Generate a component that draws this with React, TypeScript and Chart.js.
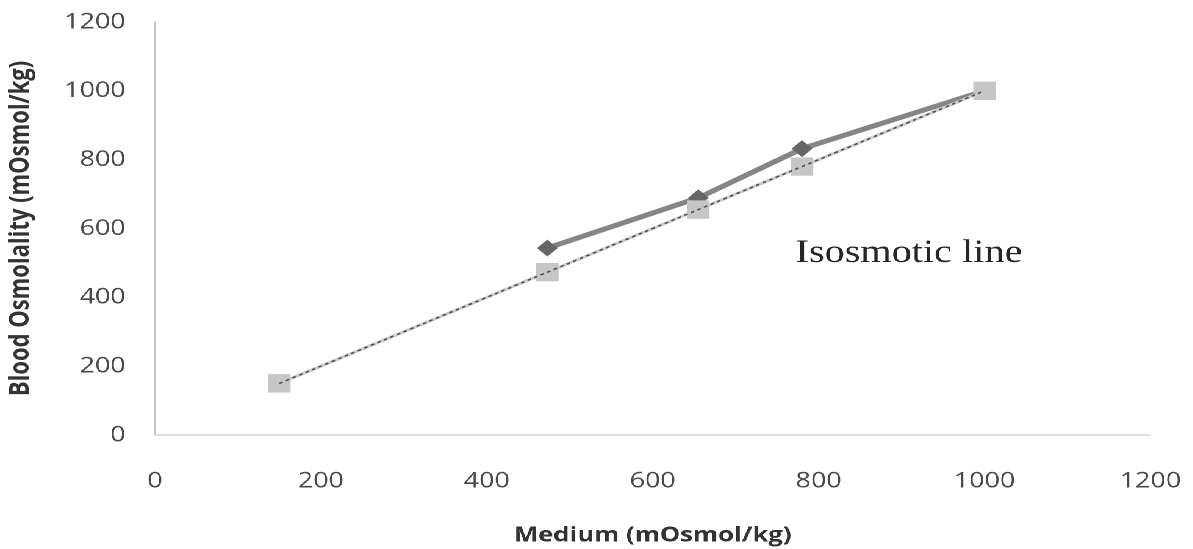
import React, { useEffect, useRef } from "react";
import { Chart, registerables } from "chart.js";

Chart.register(...registerables);

// ---- data ----
const mediumBlood = [473, 655, 780, 1000];
const bloodOsmolality = [543, 689, 832, 1000];
const mediumIso = [150, 473, 655, 780, 1000];
const isoOsmolality = [150, 473, 655, 780, 1000];
const axisTicks = [0, 200, 400, 600, 800, 1000, 1200];
const xTitle = "Medium (mOsmol/kg)";
const yTitle = "Blood Osmolality (mOsmol/kg)";
const annotationText = "Isosmotic line";

// ---- layout (inner, before horizontal stretch) ----
const STRETCH = 1.22;
const W = Math.round(1193 / STRETCH);
const H = 549;
const PLOT_LEFT = 127;
const PLOT_RIGHT = 943;
const PLOT_TOP = 22;
const PLOT_BOTTOM = 435;

const toPoints = (xs: number[], ys: number[]) => xs.map((x, i) => ({ x, y: ys[i] }));

export default function App() {
  const canvasRef = useRef<HTMLCanvasElement | null>(null);

  useEffect(() => {
    const canvas = canvasRef.current;
    if (!canvas) return;

    const annotationPlugin = {
      id: "isoAnnotation",
      afterDatasetsDraw(chart: any) {
        const ctx = chart.ctx;
        ctx.save();
        ctx.font = '33px "Liberation Serif"';
        ctx.fillStyle = "#262626";
        ctx.textBaseline = "alphabetic";
        ctx.textAlign = "left";
        ctx.fillText(annotationText, 652, 262);
        ctx.restore();
      },
    };

    const tickFont = { family: '"Open Sans"', size: 22 };
    const zeroPad = (scale: any) => {
      scale.paddingTop = 0;
      scale.paddingBottom = 0;
      scale.paddingLeft = 0;
      scale.paddingRight = 0;
    };

    const chart = new Chart(canvas, {
      type: "scatter",
      data: {
        datasets: [
          {
            label: "Blood",
            data: toPoints(mediumBlood, bloodOsmolality),
            showLine: true,
            borderColor: "#858585",
            borderWidth: 5,
            pointStyle: "rectRot",
            pointRadius: 8.5,
            pointBackgroundColor: "#666666",
            pointBorderColor: "#666666",
            pointBorderWidth: 0,
            order: 3,
          },
          {
            label: "Isosmotic",
            data: toPoints(mediumIso, isoOsmolality),
            showLine: true,
            borderColor: "#cccccc",
            borderWidth: 3,
            pointStyle: "rect",
            pointRadius: 13,
            pointBackgroundColor: "#c6c6c6",
            pointBorderColor: "#c6c6c6",
            pointBorderWidth: 0,
            order: 2,
          },
          {
            label: "Isosmotic dashes",
            data: toPoints(mediumIso, isoOsmolality),
            showLine: true,
            borderColor: "#505050",
            borderWidth: 1.5,
            borderDash: [3, 3],
            pointRadius: 0,
            order: 1,
          },
        ],
      },
      options: {
        responsive: false,
        animation: false,
        devicePixelRatio: 2,
        layout: { padding: { top: PLOT_TOP, right: W - PLOT_RIGHT, left: 0, bottom: 0 } },
        plugins: {
          legend: { display: false },
          tooltip: { enabled: false },
        },
        scales: {
          x: {
            type: "linear",
            min: axisTicks[0],
            max: axisTicks[axisTicks.length - 1],
            afterBuildTicks: (scale: any) => {
              scale.ticks = axisTicks.map((v) => ({ value: v }));
            },
            afterFit: (scale: any) => {
              scale.height = H - PLOT_BOTTOM;
              zeroPad(scale);
            },
            grid: { display: false, drawTicks: false },
            border: { display: true, color: "#c4c4c4", width: 1 },
            ticks: {
              font: tickFont,
              color: "#4a4a4a",
              padding: 33,
              maxRotation: 0,
              callback: (v: any) => String(v),
            },
            title: {
              display: true,
              text: xTitle,
              font: { family: '"Open Sans"', size: 21, weight: "bold" },
              color: "#333333",
              padding: { top: 0, bottom: 1 },
            },
          },
          y: {
            type: "linear",
            min: axisTicks[0],
            max: axisTicks[axisTicks.length - 1],
            afterBuildTicks: (scale: any) => {
              scale.ticks = axisTicks.map((v) => ({ value: v }));
            },
            afterFit: (scale: any) => {
              scale.width = PLOT_LEFT;
              zeroPad(scale);
            },
            grid: { display: false, drawTicks: false },
            border: { display: true, color: "#c4c4c4", width: 1 },
            ticks: {
              font: tickFont,
              color: "#4a4a4a",
              padding: 24,
              callback: (v: any) => String(v),
            },
            title: {
              display: true,
              text: yTitle,
              font: { family: '"Open Sans"', size: 22, weight: "bold" },
              color: "#333333",
              padding: { top: 4, bottom: 0 },
            },
          },
        },
      },
      plugins: [annotationPlugin],
    } as any);

    return () => chart.destroy();
  }, []);

  return (
    <div
      style={{
        position: "absolute",
        left: 0,
        top: 0,
        width: W,
        height: H,
        transform: `scaleX(${STRETCH})`,
        transformOrigin: "0 0",
        background: "#ffffff",
      }}
    >
      <canvas ref={canvasRef} width={W} height={H} style={{ width: W, height: H, display: "block" }} />
    </div>
  );
}
